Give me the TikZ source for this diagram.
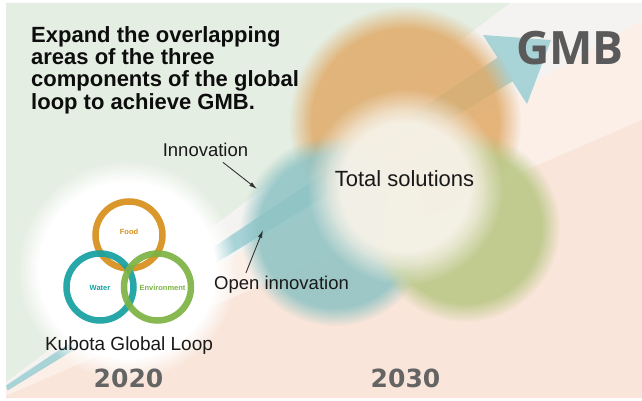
\documentclass[tikz,border=0pt]{standalone}
\usepackage{fontspec}
\setmainfont{Liberation Sans}
\newfontfamily\gmbfont{Open Sans}
\newfontfamily\yearfont{DejaVu Sans}
\usetikzlibrary{arrows.meta,fadings}

\definecolor{bggreen}{HTML}{E5EEE2}
\definecolor{bgpeach}{HTML}{F9E5D9}
\definecolor{bgpale}{HTML}{FBEFE8}
\definecolor{bgwhite}{HTML}{F4F3F1}
\definecolor{arrowblue}{HTML}{A0D0D5}
\definecolor{bigorange}{HTML}{E0AA68}
\definecolor{bigteal}{HTML}{8CC2C3}
\definecolor{biggreen}{HTML}{B8C784}
\definecolor{centerwhite}{HTML}{F6F2E8}
\definecolor{foodc}{HTML}{D68F1B}
\definecolor{waterc}{HTML}{16A0A2}
\definecolor{envc}{HTML}{7DB344}
\definecolor{gmbgray}{HTML}{5A5A5A}
\definecolor{yeargray}{HTML}{646464}

\begin{document}
\begin{tikzpicture}[x=1pt,y=-1pt,
  ring/.style={line width=6.5pt,draw opacity=0.92},
  ringlabel/.style={font=\fontsize{7.5}{8}\selectfont\bfseries,inner sep=0},
  blob/.style={fill opacity=0.85,path fading=circle with fuzzy edge 20 percent},
  glow/.style={path fading=circle with fuzzy edge 20 percent},
  label/.style={font=\fontsize{18.5}{20}\selectfont,text=black!90,inner sep=0},
  callout/.style={draw=black!80,line width=0.9pt,-{Latex[length=8pt,width=4.5pt]}},
  year/.style={font=\yearfont\fontsize{25}{26}\selectfont\bfseries,text=yeargray,inner sep=0}]
  \useasboundingbox (0,0) rectangle (642,401);
  % background
  \fill[white] (0,0) rectangle (642,401);
  \fill[bgpale] (6,3) rectangle (642,398);
  \fill[bgwhite] (6,382) -- (510,3) -- (642,3) -- (642,20) -- (6,388) -- cycle;
  \fill[bggreen] (6,3) -- (510,3) -- (6,382) -- cycle;
  \fill[bgpeach] (6,398) -- (6,396) -- (642,120) -- (642,398) -- cycle;
  % growth arrow
  \fill[arrowblue,opacity=0.9] (6,385.5) -- (497.5,57.7) -- (483,35) -- (551,40)
    -- (527,104) -- (512.5,81.3) -- (7.6,390.5) -- cycle;
  % 2030 circles
  \fill[bigorange,blob] (405,122) circle[radius=116];
  \fill[bigteal,blob] (335,231) circle[radius=95];
  \fill[biggreen,blob] (465,227) circle[radius=95];
  \fill[centerwhite,glow,opacity=0.6] (405,187) circle[radius=98];
  \fill[centerwhite,glow,opacity=0.9] (405,187) circle[radius=80];
  % 2020 loop
  \fill[white,glow] (127,270) circle[radius=110];
  \draw[ring,foodc] (129,235) circle[radius=33.5];
  \draw[ring,waterc] (100,287) circle[radius=33.5];
  \draw[ring,envc] (157.5,287) circle[radius=33.5];
  \node[ringlabel,text=foodc] (food) at (129,232) {Food};
  \node[ringlabel,text=waterc] (water) at (100,288) {Water};
  \node[ringlabel,text=envc] (env) at (162.5,288) {Environment};
  % texts
  \node[anchor=base west,align=left,inner sep=0,
    font=\fontsize{22}{22.4}\selectfont\bfseries,text=black!95] (title) at (31,109.3)
    {Expand the overlapping\\areas of the three\\components of the global\\loop to achieve GMB.};
  \node[anchor=base west,inner sep=0,font=\gmbfont\fontsize{46}{46}\selectfont\bfseries,
    text=gmbgray] (gmb) at (516,65) {GMB};
  \node[label,font=\fontsize{22}{24}\selectfont,anchor=base] (total) at (404.5,186.7) {Total solutions};
  \node[label,anchor=base] (innov) at (205.5,156) {Innovation};
  \node[label,anchor=base] (openinnov) at (281.5,289.5) {Open innovation};
  \node[label,font=\fontsize{19}{20}\selectfont,anchor=base] (kgl) at (129,350) {Kubota Global Loop};
  \node[year,anchor=base] (y2020) at (128.5,387.7) {2020};
  \node[year,anchor=base] (y2030) at (405.5,387.7) {2030};
  % callouts
  \coordinate (innovtip) at (257,189);
  \coordinate (openinnovtip) at (263,230);
  \draw[callout] ([shift={(17.5,6)}]innov.south) -- (innovtip);
  \draw[callout] ([shift={(32,-3)}]openinnov.north west) -- (openinnovtip);
\end{tikzpicture}
\end{document}
